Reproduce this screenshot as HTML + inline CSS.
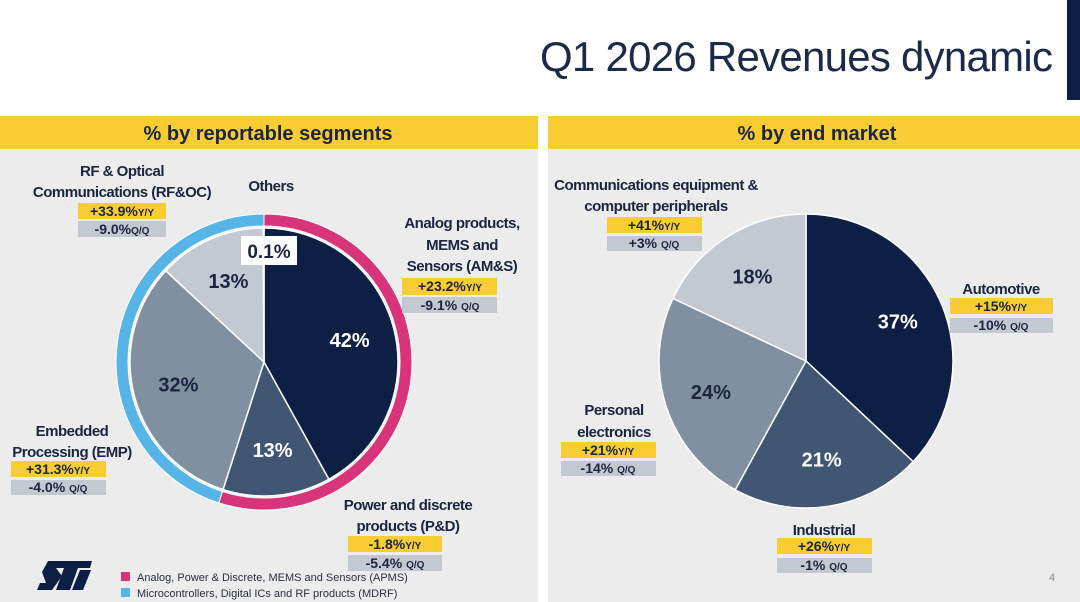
<!DOCTYPE html>
<html><head><meta charset="utf-8"><style>
html,body{margin:0;padding:0;background:#fff;}
svg{display:block;font-family:"Liberation Sans",Arial,sans-serif;}
.lb{font-weight:bold;font-size:15px;fill:#1b2440;text-anchor:middle;letter-spacing:-0.5px;}
.bd{font-weight:bold;font-size:14px;fill:#1b2440;text-anchor:middle;}
.sm{font-size:10px;}
</style></head><body>
<svg id="chart" width="1080" height="602" viewBox="0 0 1080 602">
<rect x="0" y="0" width="1080" height="602" fill="#ffffff"/>
<text x="1053" y="71" font-size="42" fill="#1a2a48" text-anchor="end" textLength="513">Q1 2026 Revenues dynamic</text>
<rect x="1067" y="0" width="13" height="100" fill="#0d1f45"/>

<rect x="0" y="116" width="538" height="486" fill="#ececec"/>
<rect x="0" y="116" width="538" height="33" fill="#f7cd33"/>
<text x="268" y="140" font-size="20" font-weight="bold" fill="#1b2440" text-anchor="middle">% by reportable segments</text>

<rect x="548" y="116" width="532" height="486" fill="#ececec"/>
<rect x="548" y="116" width="532" height="33" fill="#f7cd33"/>
<text x="817" y="140" font-size="20" font-weight="bold" fill="#1b2440" text-anchor="middle">% by end market</text>

<g id="leftPie"></g>
<g id="rightPie"></g>

<g>
<text class="lb" x="122" y="176">RF &amp; Optical</text>
<text class="lb" x="122" y="197">Communications (RF&amp;OC)</text>
<rect x="78" y="203" width="88" height="16" fill="#f7cd33"/><text class="bd" x="122" y="216">+33.9%<tspan class="sm">Y/Y</tspan></text>
<rect x="78" y="221" width="88" height="16" fill="#c4c8d0"/><text class="bd" x="122" y="234">-9.0%<tspan class="sm">Q/Q</tspan></text>
</g>
<text class="lb" x="271" y="191">Others</text>
<g>
<rect x="241" y="236" width="56" height="29" fill="#ffffff"/>
<text x="269" y="258" font-size="19" font-weight="bold" fill="#1b2440" text-anchor="middle">0.1%</text>
</g>
<g>
<text class="lb" x="462" y="228">Analog products,</text>
<text class="lb" x="462" y="250">MEMS and</text>
<text class="lb" x="462" y="271">Sensors (AM&amp;S)</text>
<rect x="402" y="278" width="95" height="17" fill="#f7cd33"/><text class="bd" x="450" y="291">+23.2%<tspan class="sm">Y/Y</tspan></text>
<rect x="402" y="297" width="95" height="16" fill="#c4c8d0"/><text class="bd" x="450" y="310">-9.1% <tspan class="sm">Q/Q</tspan></text>
</g>
<g>
<text class="lb" x="72" y="436">Embedded</text>
<text class="lb" x="72" y="457">Processing (EMP)</text>
<rect x="11" y="461" width="95" height="16" fill="#f7cd33"/><text class="bd" x="58" y="474">+31.3%<tspan class="sm">Y/Y</tspan></text>
<rect x="11" y="480" width="95" height="15" fill="#c4c8d0"/><text class="bd" x="58" y="492">-4.0% <tspan class="sm">Q/Q</tspan></text>
</g>
<g>
<text class="lb" x="408" y="510">Power and discrete</text>
<text class="lb" x="408" y="531">products (P&amp;D)</text>
<rect x="348" y="536" width="94" height="16" fill="#f7cd33"/><text class="bd" x="395" y="549">-1.8%<tspan class="sm">Y/Y</tspan></text>
<rect x="348" y="555" width="94" height="16" fill="#c4c8d0"/><text class="bd" x="395" y="568">-5.4% <tspan class="sm">Q/Q</tspan></text>
</g>

<g fill="#0d1f45">
<polygon points="48,561 92,561 90,568 56,568 62,576 52,590 37,590 40,583 46,583 42,572"/>
<polygon points="64,568 78,568 70,590 56,590"/>
<polygon points="80,570 91,570 83,590 72,590"/>
</g>
<g>
<rect x="121" y="572" width="9" height="9" fill="#d8347a"/>
<text x="137" y="581" font-size="11" fill="#2a2f3c">Analog, Power &amp; Discrete, MEMS and Sensors (APMS)</text>
<rect x="121" y="588" width="9" height="9" fill="#56b4e6"/>
<text x="137" y="597" font-size="11" fill="#2a2f3c">Microcontrollers, Digital ICs and RF products (MDRF)</text>
</g>

<g>
<text class="lb" x="656" y="190">Communications equipment &amp;</text>
<text class="lb" x="656" y="211">computer peripherals</text>
<rect x="607" y="217" width="95" height="16" fill="#f7cd33"/><text class="bd" x="654" y="230">+41%<tspan class="sm">Y/Y</tspan></text>
<rect x="607" y="236" width="95" height="15" fill="#c4c8d0"/><text class="bd" x="654" y="248">+3% <tspan class="sm">Q/Q</tspan></text>
</g>
<g>
<text class="lb" x="1001" y="294">Automotive</text>
<rect x="950" y="298" width="103" height="16" fill="#f7cd33"/><text class="bd" x="1001" y="311">+15%<tspan class="sm">Y/Y</tspan></text>
<rect x="950" y="318" width="103" height="15" fill="#c4c8d0"/><text class="bd" x="1001" y="330">-10% <tspan class="sm">Q/Q</tspan></text>
</g>
<g>
<text class="lb" x="614" y="415">Personal</text>
<text class="lb" x="614" y="437">electronics</text>
<rect x="561" y="442" width="95" height="16" fill="#f7cd33"/><text class="bd" x="608" y="455">+21%<tspan class="sm">Y/Y</tspan></text>
<rect x="561" y="461" width="95" height="15" fill="#c4c8d0"/><text class="bd" x="608" y="473">-14% <tspan class="sm">Q/Q</tspan></text>
</g>
<g>
<text class="lb" x="824" y="535">Industrial</text>
<rect x="777" y="538" width="95" height="16" fill="#f7cd33"/><text class="bd" x="824" y="551">+26%<tspan class="sm">Y/Y</tspan></text>
<rect x="777" y="558" width="95" height="15" fill="#c4c8d0"/><text class="bd" x="824" y="570">-1% <tspan class="sm">Q/Q</tspan></text>
</g>
<text x="1049" y="581" font-size="11" fill="#888">4</text>
</svg>
<script>
const segNames = ["AM&S","P&D","EMP","RF&OC","Others"];
const segValues = [42, 13, 32, 13, 0.1];
const segLabels = ["42%","13%","32%","13%",""];
const segGroup = ["APMS","APMS","MDRF","MDRF","MDRF"];
const mktNames = ["Automotive","Industrial","Personal electronics","Communications"];
const mktValues = [37, 21, 24, 18];
const mktLabels = ["37%","21%","24%","18%"];

const NS = "http://www.w3.org/2000/svg";
const colors = ["#0d1f45","#405673","#8190a1","#c3c9d2","#c3c9d2"];
const textColors = ["#ffffff","#ffffff","#1b2440","#1b2440","#1b2440"];
function pt(cx, cy, r, a){ return [cx + r*Math.sin(a), cy - r*Math.cos(a)]; }
function wedge(cx, cy, r, a0, a1){
  const p0 = pt(cx,cy,r,a0), p1 = pt(cx,cy,r,a1);
  const large = (a1-a0) > Math.PI ? 1 : 0;
  return `M${cx},${cy} L${p0[0]},${p0[1]} A${r},${r} 0 ${large} 1 ${p1[0]},${p1[1]} Z`;
}
function arcBand(cx, cy, r0, r1, a0, a1){
  const large = (a1-a0) > Math.PI ? 1 : 0;
  const o0 = pt(cx,cy,r1,a0), o1 = pt(cx,cy,r1,a1), i1 = pt(cx,cy,r0,a1), i0 = pt(cx,cy,r0,a0);
  return `M${o0[0]},${o0[1]} A${r1},${r1} 0 ${large} 1 ${o1[0]},${o1[1]} L${i1[0]},${i1[1]} A${r0},${r0} 0 ${large} 0 ${i0[0]},${i0[1]} Z`;
}
function drawPie(g, cx, cy, r, values, labels, labelR){
  const total = values.reduce((a,b)=>a+b,0);
  let a = 0;
  values.forEach((v,i)=>{
    const a1 = a + v/total*2*Math.PI;
    const p = document.createElementNS(NS,"path");
    p.setAttribute("d", wedge(cx,cy,r,a,a1));
    p.setAttribute("fill", colors[i]);
    p.setAttribute("stroke", "#ffffff");
    p.setAttribute("stroke-width", "1.5");
    
    
    g.appendChild(p);
    if (labels[i]) {
      const m = (a+a1)/2, q = pt(cx,cy,r*labelR,m);
      const t = document.createElementNS(NS,"text");
      t.setAttribute("x", q[0]); t.setAttribute("y", q[1]+7);
      t.setAttribute("text-anchor","middle");
      t.setAttribute("font-size","20"); t.setAttribute("font-weight","bold");
      t.setAttribute("fill", textColors[i]);
      t.textContent = labels[i];
      
      
      g.appendChild(t);
    }
    a = a1;
  });
}
const lg = document.getElementById("leftPie");
drawPie(lg, 264, 362, 134, segValues, segLabels, 0.66);
(function(){
  const total = segValues.reduce((a,b)=>a+b,0);
  const groups = ["APMS","MDRF"], gcol = {"APMS":"#d8347a","MDRF":"#56b4e6"};
  let a = 0;
  groups.forEach(gname=>{
    const s = segValues.filter((v,i)=>segGroup[i]===gname).reduce((x,y)=>x+y,0);
    const a1 = a + s/total*2*Math.PI;
    const p = document.createElementNS(NS,"path");
    p.setAttribute("d", arcBand(264,362,136,148,a,a1));
    p.setAttribute("fill", gcol[gname]);
    p.setAttribute("stroke","#ffffff");
    p.setAttribute("stroke-width","1");
    
    
    lg.appendChild(p);
    a = a1;
  });
})();
drawPie(document.getElementById("rightPie"), 806, 361, 147, mktValues, mktLabels, 0.68);
</script>
</body></html>
